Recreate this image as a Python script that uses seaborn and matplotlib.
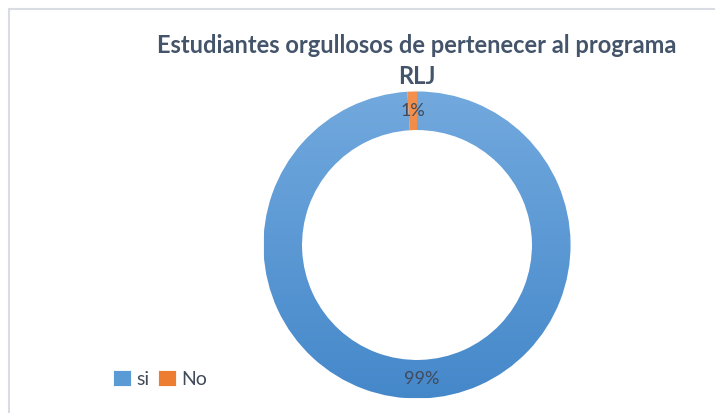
import numpy as np
import matplotlib
matplotlib.use("Agg")
import matplotlib.pyplot as plt
import seaborn as sns
from matplotlib.colors import LinearSegmentedColormap
from matplotlib.patches import Rectangle

# data
categories = ["si", "No"]
values = [99, 1]
title = "Estudiantes orgullosos de pertenecer al programa\nRLJ"

sns.set_theme(style="white")
plt.rcParams['font.family'] = ['Lato', 'DejaVu Sans']

W, H = 715, 413
fig = plt.figure(figsize=(W / 100, H / 100), dpi=100)
ax = fig.add_axes([0, 0, 1, 1])

cx, cy, R = 417, H - 245, 153.5
colors = ["#5B9BD5", "#ED7D31"]
grads = [("#72A9DE", "#4588CA"), ("#F4914F", "#E86E1C")]

wedges, texts, autotexts = ax.pie(
    values, colors=colors, startangle=90, counterclock=False,
    radius=R, center=(cx, cy),
    wedgeprops=dict(width=38.5, edgecolor="white", linewidth=0.6),
    autopct="%1.0f%%", pctdistance=0.875,
    textprops=dict(color="#404A5A", fontsize=13),
)

# vertical gradient fill like the office chart
grad = np.linspace(0, 1, 256).reshape(-1, 1)
for w, (c0, c1) in zip(wedges, grads):
    cmap = LinearSegmentedColormap.from_list("g", [c0, c1])
    im = ax.imshow(grad, cmap=cmap, aspect="auto", origin="upper",
                   extent=(cx - R, cx + R, cy - R, cy + R), zorder=w.get_zorder())
    im.set_clip_path(w)
for t in autotexts:
    t.set_zorder(5)

ax.set_xlim(0, W)
ax.set_ylim(0, H)
ax.set_aspect("auto")
ax.axis("off")

# chart frame
ax.add_patch(Rectangle((8.5, -10), W, H - 8.5 + 10, fill=False,
                       edgecolor="#D9DDE3", linewidth=1.5, zorder=0))

ax.text(417, H - 61, title, ha="center", va="center", fontsize=17,
        fontweight="bold", color="#44546A", linespacing=1.4)

fig.legend(wedges, categories, loc="center left",
           bbox_to_anchor=(113 / W, 1 - 379 / H), ncol=2, frameon=False,
           fontsize=14, handlelength=0.9, handleheight=0.9,
           handletextpad=0.3, columnspacing=0.45, borderpad=0,
           borderaxespad=0, labelcolor="#404A5A")

fig.savefig("out.png", dpi=100)
